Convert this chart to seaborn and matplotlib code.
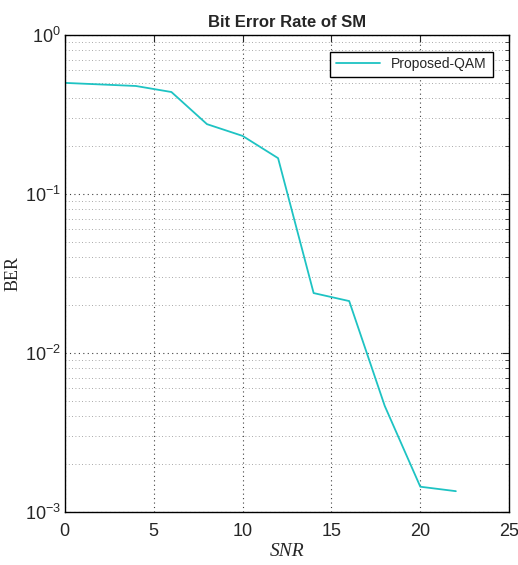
import numpy as np
import pandas as pd
import matplotlib
matplotlib.use('Agg')
import matplotlib.pyplot as plt
import seaborn as sns
from matplotlib import ticker

snr = [0, 4, 6, 8, 10, 12, 14, 16, 18, 20, 22]
ber = [0.50, 0.478, 0.438, 0.275, 0.232, 0.168, 0.0238, 0.0212, 0.00464, 0.00144, 0.00135]
series_name = 'Proposed-QAM'

sns.set_style('white')
plt.rcParams['font.family'] = ['Liberation Sans', 'DejaVu Sans']
plt.rcParams['xtick.direction'] = 'in'
plt.rcParams['ytick.direction'] = 'in'
plt.rcParams['axes.unicode_minus'] = False

df = pd.DataFrame({'SNR': snr, 'BER': ber, 'name': series_name})

fig = plt.figure(figsize=(5.18, 5.65), dpi=100)
ax = fig.add_axes([0.125, 0.094, 0.858, 0.844])
sns.lineplot(data=df, x='SNR', y='BER', hue='name', palette=['#1EC3C3'],
             linewidth=1.3, ax=ax)
ax.set_yscale('log')
ax.set_xlim(0, 25)
ax.set_ylim(1e-3, 1)
ax.set_xticks([0, 5, 10, 15, 20, 25])
ax.yaxis.set_minor_locator(ticker.LogLocator(base=10, subs=np.arange(2, 10)))
ax.yaxis.set_minor_formatter(ticker.NullFormatter())
ax.tick_params(axis='both', which='both', top=True, right=True, labelsize=13)
ax.tick_params(which='major', length=5)
ax.tick_params(which='minor', length=3)
ax.tick_params(axis='x', pad=8)
ax.tick_params(axis='y', pad=3)

ax.grid(True, which='major', linestyle=(0, (1, 3)), color='0.25', linewidth=0.8)
ax.grid(True, which='minor', axis='y', linestyle=(0, (1, 3)), color='0.55', linewidth=0.6)
for s in ax.spines.values():
    s.set_color('black')
    s.set_linewidth(1.0)

ax.set_title('Bit Error Rate of SM', fontsize=12, fontweight='bold')
ax.set_xlabel('SNR', fontsize=14, family=['Liberation Serif'], style='italic', labelpad=2)
ax.set_ylabel('BER', fontsize=13, family=['Liberation Serif'], labelpad=2)

leg = ax.legend(loc='upper right', fontsize=10, fancybox=False, edgecolor='black',
                framealpha=1, handlelength=3.2, borderaxespad=1.2)
leg.get_frame().set_linewidth(1.0)

fig.savefig('out.png', dpi=100)
